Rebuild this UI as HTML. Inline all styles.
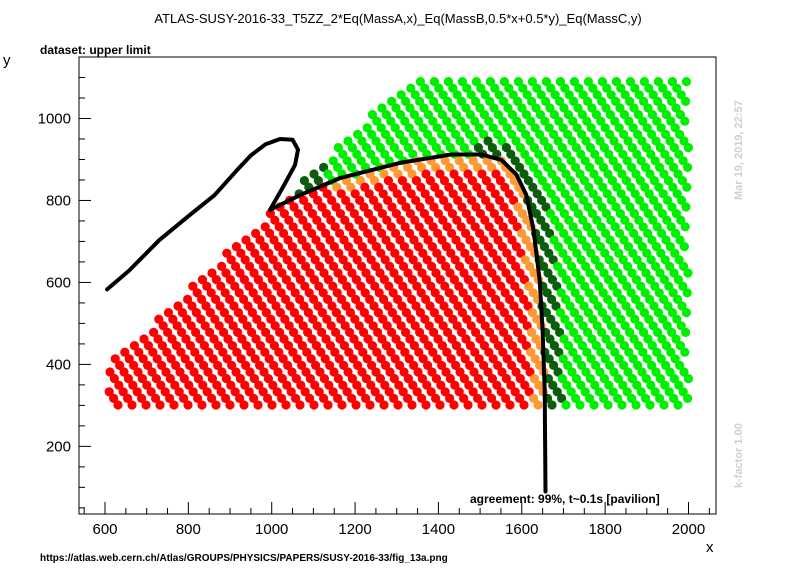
<!DOCTYPE html>
<html><head><meta charset="utf-8"><style>
body{margin:0;background:#fff;}
svg{display:block;font-family:"Liberation Sans",Arial,sans-serif;}
</style></head><body>
<svg id="chart" width="796" height="572" viewBox="0 0 796 572">
<rect width="796" height="572" fill="#fff"/>
<text x="398" y="23" font-size="13" text-anchor="middle">ATLAS-SUSY-2016-33_T5ZZ_2*Eq(MassA,x)_Eq(MassB,0.5*x+0.5*y)_Eq(MassC,y)</text>
<text x="40" y="54" font-size="12" font-weight="bold">dataset: upper limit</text>
<text x="3" y="65" font-size="15">y</text>
<text x="706" y="552" font-size="15">x</text>
<text transform="translate(742,200) rotate(-90)" font-size="11" font-weight="bold" fill="#cfcfcf">Mar 19, 2019, 22:57</text>
<text transform="translate(742,488) rotate(-90)" font-size="11" font-weight="bold" fill="#cfcfcf">k-factor 1.00</text>
<text x="40" y="561" font-size="10" font-weight="bold">https://atlas.web.cern.ch/Atlas/GROUPS/PHYSICS/PAPERS/SUSY-2016-33/fig_13a.png</text>
<g id="points"></g>
<g id="axes"></g>
<path id="curve" fill="none" stroke="#000" stroke-width="4" stroke-linejoin="round" stroke-linecap="round"/>
<rect x="79" y="57" width="637" height="457" fill="none" stroke="#000" stroke-width="1"/>
<text x="470" y="503" font-size="12" font-weight="bold">agreement: 99%, t~0.1s [pavilion]</text>
</svg>
<script>
const xTicks=[600,800,1000,1200,1400,1600,1800,2000];
const yTicks=[200,400,600,800,1000];
const curveX=[605,658,730,803,863,915,950,985,1020,1050,1063,1056,1030,996,1068,1165,1310,1430,1503,1551,1587,1611,1628,1643,1650,1655,1657];
const curveY=[583,629,703,764,813,872,910,937,950,948,924,887,838,777,813,855,892,912,912,899,863,813,728,605,482,335,90];
const regionX=[600,600,1000,1334,2000,2000];
const regionY=[300,390,777,1100,1100,300];
const limitStart=13;
const X0=537.6,X1=2066,Y0=35,Y1=1150,L=79,R=716,T=57,B=514;
function sx(v){return L+(v-X0)/(X1-X0)*(R-L);}
function sy(v){return B-(v-Y0)/(Y1-Y0)*(B-T);}
const NS="http://www.w3.org/2000/svg";
const ax=document.getElementById('axes');
function ln(x1,y1,x2,y2){const e=document.createElementNS(NS,'line');e.setAttribute('x1',x1);e.setAttribute('y1',y1);e.setAttribute('x2',x2);e.setAttribute('y2',y2);e.setAttribute('stroke','#000');


ax.appendChild(e);}
for(let v=550;v<=2050;v+=50){const x=sx(v);ln(x,B,x,B-(v%200===0?12:6));}
for(let v=50;v<=1150;v+=50){const y=sy(v);ln(L,y,L+(v%200===0?12:6),y);}
xTicks.forEach(v=>{const t=document.createElementNS(NS,'text');t.setAttribute('x',sx(v));t.setAttribute('y',534);t.setAttribute('font-size','15');t.setAttribute('text-anchor','middle');t.textContent=v;


ax.appendChild(t);});
yTicks.forEach(v=>{const t=document.createElementNS(NS,'text');t.setAttribute('x',71);t.setAttribute('y',sy(v)+5);t.setAttribute('font-size','15');t.setAttribute('text-anchor','end');t.textContent=v;


ax.appendChild(t);});
let d='';curveX.forEach((v,i)=>{d+=(i?'L':'M')+sx(v).toFixed(1)+','+sy(curveY[i]).toFixed(1);});
document.getElementById('curve').setAttribute('d',d);
const poly=regionX.map((v,i)=>[sx(v),sy(regionY[i])]);
function inPoly(p,P){let c=false;for(let i=0,j=P.length-1;i<P.length;j=i++){const a=P[i],b=P[j];if((a[1]>p[1])!==(b[1]>p[1])&&p[0]<(b[0]-a[0])*(p[1]-a[1])/(b[1]-a[1])+a[0])c=!c;}return c;}
const lim=[];for(let i=limitStart;i<curveX.length;i++)lim.push([sx(curveX[i]),sy(curveY[i])]);
const exPoly=[[sx(560),sy(1000)]].concat(lim).concat([[sx(1657),sy(250)],[sx(560),sy(250)]]);
function dist(p){let m=1e9;for(let i=0;i<lim.length-1;i++){const a=lim[i],b=lim[i+1];const dx=b[0]-a[0],dy=b[1]-a[1];let t=((p[0]-a[0])*dx+(p[1]-a[1])*dy)/(dx*dx+dy*dy);t=Math.max(0,Math.min(1,t));const ex=a[0]+t*dx-p[0],ey=a[1]+t*dy-p[1];m=Math.min(m,Math.hypot(ex,ey));}return m;}
const pg=document.getElementById('points');
for(let a=-200;a<720;a+=14){for(let py=75;py<410;py+=6.6){const px=a+(py-75)/1.5;const p=[px,py];
if(!inPoly(p,poly))continue;
const inside=inPoly(p,exPoly);const dd=dist(p);const dx=(px-105)/0.4167+600;
let col;if(inside){col=(dd<13&&dx>1150&&(py<200||dx>1500))?'#ff9933':'#ff0000';}
else{col=(dd<18&&(dx>1490||dx<1130))?'#0b5d0b':'#00ee00';}
const c=document.createElementNS(NS,'circle');c.setAttribute('cx',px.toFixed(1));c.setAttribute('cy',py.toFixed(1));c.setAttribute('r','4.6');c.setAttribute('fill',col);


pg.appendChild(c);}}
</script>
</body></html>
